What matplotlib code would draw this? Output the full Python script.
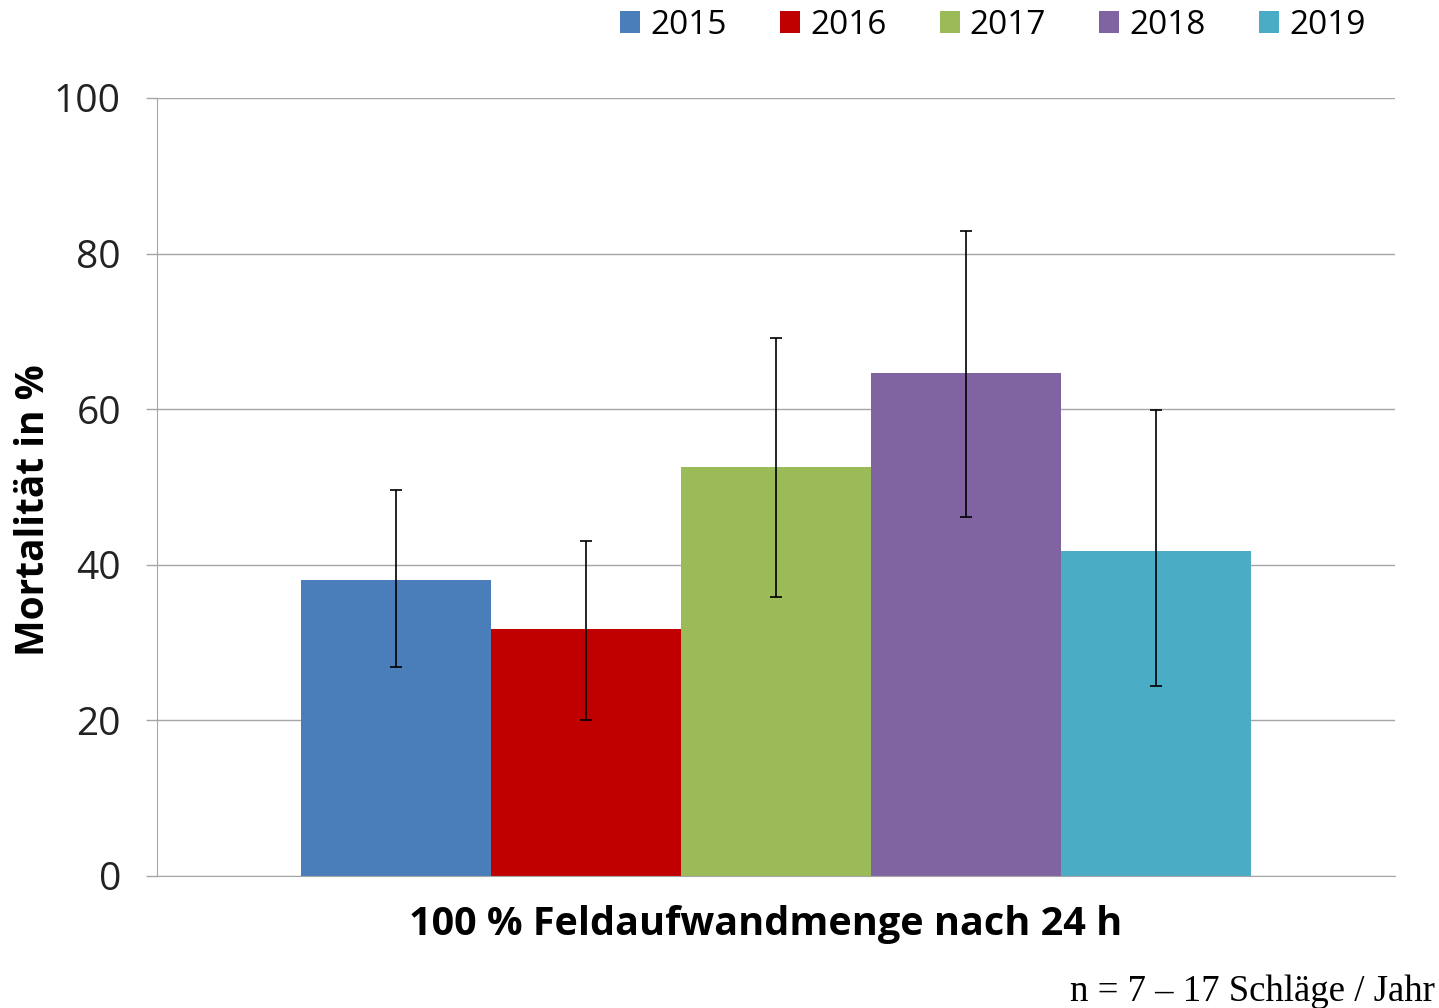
import numpy as np
import matplotlib.pyplot as plt
from matplotlib.patches import Patch

# Data
years = ['2015', '2016', '2017', '2018', '2019']
mortality = [38.0, 31.7, 52.6, 64.7, 41.8]
err_low = [11.1, 11.7, 16.7, 18.6, 17.4]
err_high = [11.6, 11.4, 16.6, 18.2, 18.1]
colors = ['#4A7EBB', '#C00000', '#9BBB59', '#8064A2', '#4BACC6']

plt.rcParams['font.family'] = ['Open Sans', 'DejaVu Sans']

fig = plt.figure(figsize=(14.39, 10.08), dpi=100)
ax = fig.add_axes([0.1091, 0.131, 0.8603, 0.7718])

x = np.arange(len(years)) - 2
ax.bar(x, mortality, width=1.0, color=colors, zorder=2)
ax.errorbar(x, mortality, yerr=[err_low, err_high], fmt='none',
            ecolor='black', elinewidth=1.2, capsize=4, capthick=1.2, zorder=3)

ax.set_xlim(-3.26, 3.26)
ax.set_ylim(0, 100)
ax.set_yticks([0, 20, 40, 60, 80, 100])
ax.yaxis.grid(True, color='#A6A6A6', linewidth=1.0, zorder=0)
ax.set_axisbelow(True)
ax.set_xticks([])

for s in ['top', 'right']:
    ax.spines[s].set_visible(False)
ax.spines['left'].set_color('#A6A6A6')
ax.spines['bottom'].set_color('#A6A6A6')
ax.tick_params(axis='y', length=8, width=1.0, color='#A6A6A6',
               labelsize=28, pad=18, labelcolor='#222222')

ax.set_ylabel('Mortalität in %', fontsize=28, fontweight='bold', va='center')
ax.yaxis.set_label_coords(-0.100, 0.47)
ax.set_xlabel('100 % Feldaufwandmenge nach 24 h', fontsize=28.5,
              fontweight='bold', va='center')
ax.xaxis.set_label_coords(0.492, -0.063)

handles = [Patch(facecolor=c) for c in colors]
fig.legend(handles, years, loc='center', bbox_to_anchor=(0.69, 0.975),
           ncol=5, frameon=False, fontsize=24, handlelength=0.6,
           handleheight=0.6, handletextpad=0.3, columnspacing=1.6)

fig.text(0.997, 0.016, 'n = 7 – 17 Schläge / Jahr', ha='right', va='center',
         fontsize=26.5, family='Liberation Serif')

fig.savefig('out.png', dpi=100)
